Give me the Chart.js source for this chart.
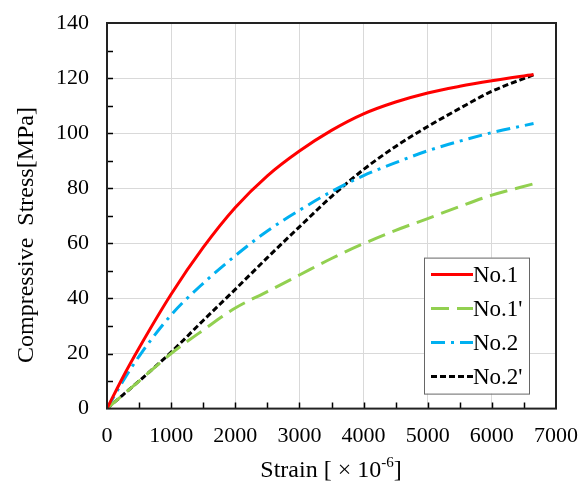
<!DOCTYPE html>
<html>
<head>
<meta charset="utf-8">
<script src="https://cdn.jsdelivr.net/npm/chart.js@4.4.1/dist/chart.umd.min.js"></script>
<style>
  html, body { margin: 0; padding: 0; background: #fff; }
  #wrap { width: 579px; height: 488px; position: relative; }
</style>
</head>
<body>
<div id="wrap"><canvas id="stressChart"></canvas></div>
<script>
// strain [x10^-6]
const strain = [0, 250, 500, 1000, 1500, 2000, 2500, 3000, 3500, 4000, 4500, 5000, 5500, 6000, 6650];
// compressive stress [MPa]
const no1  = [0, 11.5, 22, 41.5, 58.5, 73, 84.5, 93.5, 101, 107, 111.3, 114.6, 117, 119, 121.3];
const no1p = [0, 5, 10, 20, 28.5, 36.5, 42.5, 48.5, 54.5, 59.9, 64.7, 69, 73.4, 77.5, 81.6];
const no2  = [0, 10, 19, 34, 45.5, 55.5, 64.5, 72, 78.8, 84.6, 89.3, 93.6, 97.1, 100.2, 103.5];
const no2p = [0, 5, 10, 20.5, 32, 43.3, 54.8, 66, 77, 86.8, 95.2, 102.4, 109, 115.2, 121.2];
const seriesNames = ['No.1', "No.1'", 'No.2', "No.2'"];
const xTicks = [0, 1000, 2000, 3000, 4000, 5000, 6000, 7000];
const yTicks = [0, 20, 40, 60, 80, 100, 120, 140];

const FONT = "'Liberation Serif', 'Times New Roman', serif";

function toPoints(ys) {
    return strain.map((x, i) => ({ x: x, y: ys[i] }));
}

function makeSet(label, ys, color, dash) {
    return {
        label: label,
        data: toPoints(ys),
        borderColor: color,
        backgroundColor: color,
        borderWidth: 3,
        borderDash: dash,
        pointRadius: 0,
        cubicInterpolationMode: 'monotone',
        fill: false
    };
}

// the tick labels may stick out past the frame, so don't reserve room for them
function noOverflow(s) {
    s.paddingTop = 0;
    s.paddingBottom = 0;
    s.paddingLeft = 0;
    s.paddingRight = 0;
}

// frame, inward ticks, axis titles and legend box
const decorPlugin = {
    id: 'decor',
    afterDraw(chart) {
        const ctx = chart.ctx;
        const a = chart.chartArea;
        const xs = chart.scales.x;
        const ys = chart.scales.y;
        ctx.save();

        // inward ticks
        ctx.strokeStyle = '#000';
        ctx.lineWidth = 1.5;
        ctx.beginPath();
        for (let v = 500; v < 7000; v += 500) {
            const px = Math.round(xs.getPixelForValue(v)) + 0.5;
            ctx.moveTo(px, a.bottom);
            ctx.lineTo(px, a.bottom - 6);
        }
        for (let v = 10; v < 140; v += 10) {
            const py = Math.round(ys.getPixelForValue(v)) + 0.5;
            ctx.moveTo(a.left, py);
            ctx.lineTo(a.left + 6, py);
        }
        ctx.stroke();

        // frame
        ctx.strokeStyle = '#222';
        ctx.lineWidth = 2;
        ctx.strokeRect(a.left, a.top, a.right - a.left, a.bottom - a.top);

        // y title
        ctx.fillStyle = '#000';
        ctx.font = '24px ' + FONT;
        ctx.textAlign = 'center';
        ctx.textBaseline = 'middle';
        ctx.translate(27, 235);
        ctx.rotate(-Math.PI / 2);
        ctx.fillText('Compressive  Stress[MPa]', 0, 0);
        ctx.setTransform(1, 0, 0, 1, 0, 0);

        // x title with superscript
        const main = 'Strain [ \u00d7 10';
        const sup = '-6';
        const tail = ']';
        ctx.font = '24px ' + FONT;
        const w1 = ctx.measureText(main).width;
        const w3 = ctx.measureText(tail).width;
        ctx.font = '15px ' + FONT;
        const w2 = ctx.measureText(sup).width;
        let x0 = 331 - (w1 + w2 + w3) / 2;
        const yb = 477;
        ctx.textAlign = 'left';
        ctx.textBaseline = 'alphabetic';
        ctx.font = '24px ' + FONT;
        ctx.fillText(main, x0, yb);
        ctx.font = '15px ' + FONT;
        ctx.fillText(sup, x0 + w1, yb - 10);
        ctx.font = '24px ' + FONT;
        ctx.fillText(tail, x0 + w1 + w2, yb);

        // legend
        const bx = a.right - 132, by = a.bottom - 151, bw = 105, bh = 136;
        ctx.fillStyle = '#fff';
        ctx.fillRect(bx, by, bw, bh);
        ctx.strokeStyle = '#666';
        ctx.lineWidth = 1;
        ctx.strokeRect(bx + 0.5, by + 0.5, bw, bh);
        chart.data.datasets.forEach((ds, i) => {
            const ly = by + 17 + i * 34;
            ctx.strokeStyle = ds.borderColor;
            ctx.lineWidth = ds.borderWidth;
            ctx.setLineDash(ds.borderDash || []);
            ctx.beginPath();
            ctx.moveTo(bx + 7, ly);
            ctx.lineTo(bx + 49, ly);
            ctx.stroke();
            ctx.setLineDash([]);
            ctx.fillStyle = '#000';
            ctx.font = '23px ' + FONT;
            ctx.textBaseline = 'middle';
            ctx.fillText(ds.label, bx + 49, ly + 1);
        });
        ctx.restore();
    }
};

const ctx = document.getElementById('stressChart').getContext('2d');
new Chart(ctx, {
    type: 'line',
    data: {
        datasets: [
            makeSet(seriesNames[0], no1, '#ff0000', []),
            makeSet(seriesNames[1], no1p, '#92d050', [18, 8]),
            makeSet(seriesNames[2], no2, '#00b0f0', [14, 6, 3, 6]),
            makeSet(seriesNames[3], no2p, '#000000', [6, 3])
        ]
    },
    options: {
        responsive: true,
        maintainAspectRatio: false,
        animation: false,
        layout: { padding: { left: 38, top: 23, right: 23, bottom: 25 } },
        plugins: {
            legend: { display: false },
            tooltip: { enabled: false }
        },
        scales: {
            x: {
                type: 'linear',
                min: 0,
                max: 7000,
                afterBuildTicks: (s) => { s.ticks = xTicks.map(v => ({ value: v })); },
                afterFit: noOverflow,
                ticks: {
                    color: '#000', font: { family: FONT, size: 22 }, padding: 14, maxRotation: 0,
                    callback: (v) => String(v)
                },
                grid: { color: '#d9d9d9', lineWidth: 1, drawTicks: false },
                border: { display: false }
            },
            y: {
                min: 0,
                max: 140,
                afterBuildTicks: (s) => { s.ticks = yTicks.map(v => ({ value: v })); },
                afterFit: noOverflow,
                ticks: {
                    color: '#000', font: { family: FONT, size: 22 }, padding: 18,
                    callback: (v) => String(v)
                },
                grid: { color: '#d9d9d9', lineWidth: 1, drawTicks: false },
                border: { display: false }
            }
        }
    },
    plugins: [decorPlugin]
});
</script>
</body>
</html>
